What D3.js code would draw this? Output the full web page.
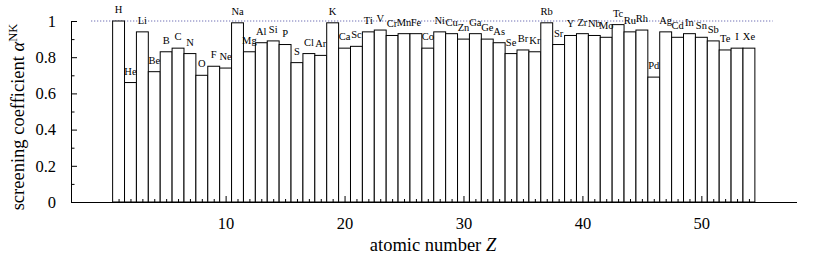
<!DOCTYPE html>
<html lang="en">
<head>
    <meta charset="UTF-8">
    <title>Screening coefficient</title>
    <script src="https://d3js.org/d3.v7.min.js"></script>
    <style>
        body { margin: 0; background: #fff; }
        .bar { fill: #fff; stroke: #000; stroke-width: 1; }
        .tick line { stroke: #000; }
        .domain { stroke: #000; }
    </style>
</head>
<body>
    <div id="chart"></div>
    <script>
        // element symbols, Z = 1..54
        const elements = ["H","He","Li","Be","B","C","N","O","F","Ne",
            "Na","Mg","Al","Si","P","S","Cl","Ar","K","Ca",
            "Sc","Ti","V","Cr","Mn","Fe","Co","Ni","Cu","Zn",
            "Ga","Ge","As","Se","Br","Kr","Rb","Sr","Y","Zr",
            "Nb","Mo","Tc","Ru","Rh","Pd","Ag","Cd","In","Sn",
            "Sb","Te","I","Xe"];

        // screening coefficient alpha^NK
        const alphaNK = [1.00,0.66,0.94,0.72,0.83,0.85,0.82,0.70,0.75,0.74,
            0.99,0.83,0.88,0.89,0.87,0.77,0.82,0.81,0.99,0.85,
            0.86,0.94,0.95,0.92,0.93,0.93,0.85,0.94,0.93,0.90,
            0.93,0.90,0.88,0.82,0.84,0.83,0.99,0.87,0.92,0.93,
            0.92,0.91,0.98,0.94,0.95,0.69,0.94,0.91,0.93,0.91,
            0.89,0.84,0.85,0.85];

        const yMajor = [0, 0.2, 0.4, 0.6, 0.8, 1];
        const yMinor = [0.1, 0.3, 0.5, 0.7, 0.9];
        const xMajor = [10, 20, 30, 40, 50];

        const data = elements.map((s, i) => ({ z: i + 1, name: s, value: alphaNK[i] }));

        const W = 817, H = 257;
        const serif = "Liberation Serif";
        const x = d3.scaleLinear().domain([-3, 58]).range([71, 796.5]);
        const y = d3.scaleLinear().domain([0, 1]).range([202, 21]);

        const svg = d3.select("#chart").append("svg")
            .attr("width", W).attr("height", H);

        // reference line at alpha = 1
        svg.append("line")
            .attr("x1", x(-1.3)).attr("x2", x(56))
            .attr("y1", y(1)).attr("y2", y(1))
            .attr("stroke", "#4848a0")
            .attr("stroke-width", 1)
            .attr("stroke-dasharray", "1,2");

        // bars
        svg.selectAll(".bar")
            .data(data)
            .enter().append("rect")
            .attr("class", "bar")
            .attr("x", d => x(d.z - 0.5))
            .attr("y", d => y(d.value))
            .attr("width", d => x(d.z + 0.5) - x(d.z - 0.5))
            .attr("height", d => y(0) - y(d.value));

        // element labels
        svg.selectAll(".el-label")
            .data(data)
            .enter().append("text")
            .attr("class", "el-label")
            .attr("x", d => x(d.z))
            .attr("y", d => y(d.value) - 8)
            .attr("text-anchor", "middle")
            .style("font-size", "10.5px")
            .text(d => d.name);

        // y axis
        svg.append("g")
            .attr("transform", `translate(${x(-3)},0)`)
            .call(d3.axisLeft(y).tickValues(yMajor).tickSize(-6).tickSizeOuter(0)
                .tickPadding(15).tickFormat(d3.format("~g")));
        svg.append("g")
            .attr("transform", `translate(${x(-3)},0)`)
            .call(d3.axisLeft(y).tickValues(yMinor).tickSize(-3.5).tickSizeOuter(0).tickFormat(""))
            .select(".domain").remove();

        // x axis
        svg.append("g")
            .attr("transform", `translate(0,${y(0)})`)
            .call(d3.axisBottom(x).tickValues(xMajor).tickSize(-6).tickSizeOuter(0).tickPadding(15));
        svg.append("g")
            .attr("transform", `translate(0,${y(0)})`)
            .call(d3.axisBottom(x).tickValues(d3.range(1, 55).filter(z => z % 10 !== 0))
                .tickSize(-3).tickSizeOuter(0).tickFormat(""))
            .select(".domain").remove();

        svg.selectAll(".tick text").style("font-size", "16.5px");

        // axis titles
        const xt = svg.append("text")
            .attr("x", 433).attr("y", 251)
            .attr("text-anchor", "middle")
            .style("font-size", "18.5px");
        xt.append("tspan").text("atomic number ");
        xt.append("tspan").style("font-style", "italic").text("Z");

        const yt = svg.append("text")
            .attr("transform", "translate(24,117) rotate(-90)")
            .attr("text-anchor", "middle")
            .style("font-size", "18.5px");
        yt.append("tspan").text("screening coefficient ");
        yt.append("tspan").style("font-style", "italic").text("α");
        yt.append("tspan").style("font-size", "12.5px").attr("dy", "-7").text("NK");

        svg.selectAll("text").style("font-family", serif).style("fill", "#000");
    </script>
</body>
</html>
